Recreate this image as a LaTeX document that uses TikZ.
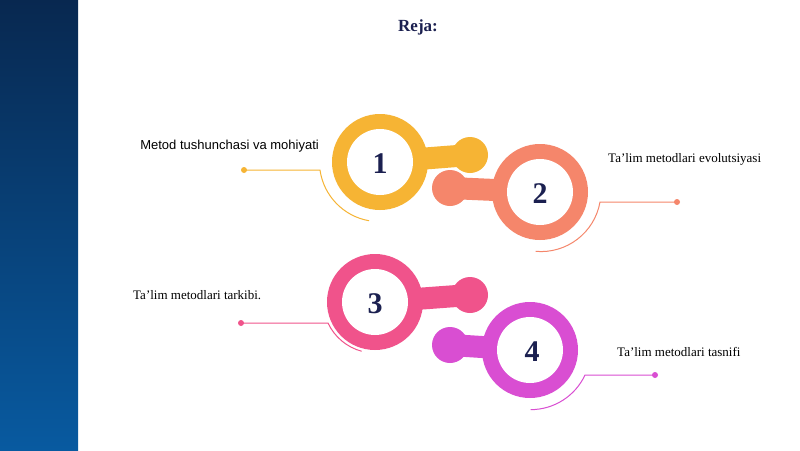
\documentclass[tikz,border=0pt]{standalone}
\usepackage{fontspec}
\setmainfont{Liberation Serif}
\newfontfamily\sansf{Liberation Sans}
\begin{document}
\begin{tikzpicture}[x=1pt,y=-1pt,
  lbl/.style={font=\fontsize{13}{15}\selectfont, inner sep=0pt},
  num/.style={font=\fontsize{30}{32}\selectfont\bfseries, text=navy},
  lead/.style={line width=1pt},
]
\definecolor{navy}{HTML}{1B2050}
\definecolor{cA}{HTML}{F6B434}
\definecolor{cB}{HTML}{F5866B}
\definecolor{cC}{HTML}{F0538B}
\definecolor{cD}{HTML}{D94ED2}
\useasboundingbox (0,0) rectangle (800,450);
\fill[white] (0,0) rectangle (800,450);
\shade[top color={rgb,255:red,8;green,40;blue,80}, bottom color={rgb,255:red,8;green,90;blue,160}] (0,0) rectangle (78,450);
\node[font=\fontsize{17}{19}\selectfont\bfseries, text=navy] (title) at (418,27) {Reja:};
% ring builder
\newcommand{\ringshape}[5]{% color, cx, cy, kx, ky
  \fill[#1] (#2,#3) circle (48);
  \fill[#1] (#4,#5) circle (18);
  \draw[#1, line width=22pt] (#2,#3) -- (#4,#5);
  \fill[white] (#2,#3) circle (33);
}
\ringshape{cA}{380}{162}{470}{155}
\ringshape{cB}{540}{192}{450}{188}
\ringshape{cC}{375}{302}{470}{295}
\ringshape{cD}{530}{350}{450}{345}
\node[num] (n1) at (380,164) {1};
\node[num] (n2) at (540,194) {2};
\node[num] (n3) at (375,304) {3};
\node[num] (n4) at (532,352) {4};
% leaders
\coordinate (d1) at (244,170); \coordinate (e1) at (320,170);
\fill[cA] (d1) circle (3);
\draw[cA,lead] (d1) -- (e1) arc[start angle=172, end angle=100, radius=60];
\coordinate (d2) at (677,202); \coordinate (e2) at (600,202);
\fill[cB] (d2) circle (3);
\draw[cB,lead] (d2) -- (e2) arc[start angle=10, end angle=95, radius=60];
\coordinate (d3) at (241,323); \coordinate (e3) at (328,323);
\fill[cC] (d3) circle (3);
\draw[cC,lead] (d3) -- (e3) arc[start angle=155, end angle=105, radius=52];
\coordinate (d4) at (655,375); \coordinate (e4) at (585,375);
\fill[cD] (d4) circle (3);
\draw[cD,lead] (d4) -- (e4) arc[start angle=25, end angle=90, radius=60];
% labels
\node[lbl, anchor=east, font=\sansf\fontsize{13}{15}\selectfont] (t1) at (319,146) {Metod tushunchasi va mohiyati};
\node[lbl, anchor=west] (t2) at (608,159) {Ta’lim metodlari evolutsiyasi};
\node[lbl, anchor=west] (t3) at (133,295) {Ta’lim metodlari tarkibi.};
\node[lbl, anchor=west] (t4) at (617,352) {Ta’lim metodlari tasnifi};
\end{tikzpicture}
\end{document}
